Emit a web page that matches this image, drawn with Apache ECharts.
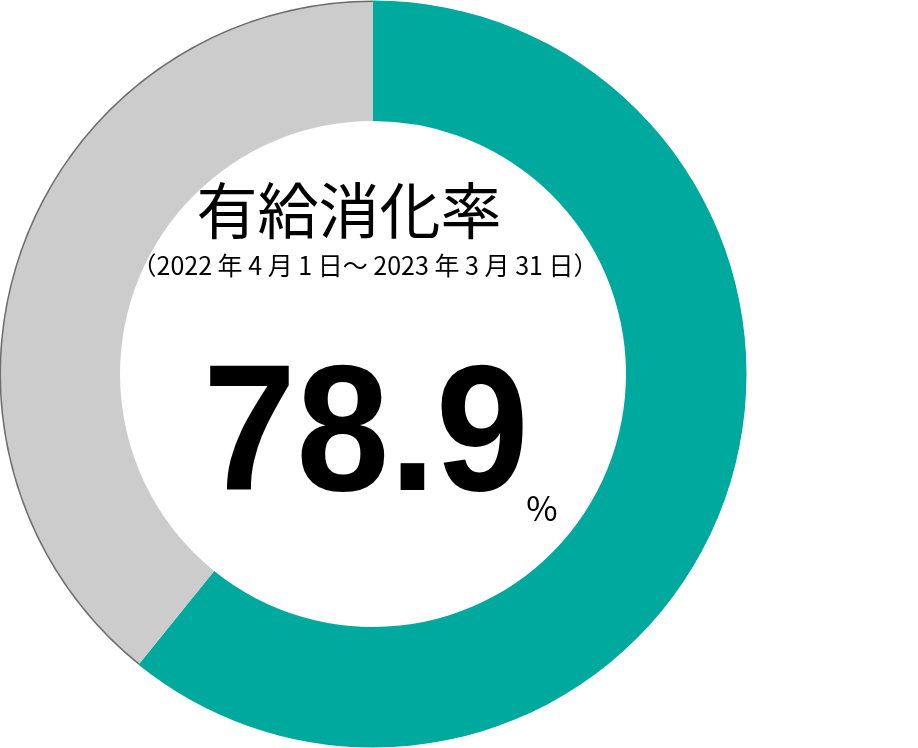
<!DOCTYPE html>
<html>
<head>
<meta charset="utf-8">
<script src="https://cdn.jsdelivr.net/npm/echarts@6/dist/echarts.min.js"></script>
<style>
html,body{margin:0;padding:0;background:#fff;}
#chart{width:918px;height:748px;}
</style>
</head>
<body>
<div id="chart"></div>
<script>
// Data
const sliceNames = ['有給消化', 'その他'];
const sliceValues = [60.8, 39.2];
const sliceColors = ['#00A99D', '#CCCCCC'];
const edgeColors = ['#00A99D', '#6E6E6E'];
const titleText = '有給消化率';
const periodText = '（2022 年 4 月 1 日～ 2023 年 3 月 31 日）';
const rateText = '78.9';
const unitText = '%';

const chart = echarts.init(document.getElementById('chart'), null, {renderer: 'canvas'});

const mainData = sliceNames.map((n, i) => ({name: n, value: sliceValues[i], itemStyle: {color: sliceColors[i]}}));
const edgeData = sliceNames.map((n, i) => ({name: n, value: sliceValues[i], itemStyle: {color: edgeColors[i]}}));

function txt(text, x, y, font, extra) {
  return Object.assign({
    type: 'text',
    x: x, y: y,
    style: {
      text: text,
      font: font,
      fill: '#000',
      align: 'center', verticalAlign: 'middle',
      textAlign: 'center', textVerticalAlign: 'middle'
    },
    silent: true,
    z: 100
  }, extra || {});
}

chart.setOption({
  animation: false,
  backgroundColor: '#fff',
  series: [
    {
      type: 'pie',
      center: [373, 374],
      radius: [253, 373],
      startAngle: 90,
      clockwise: true,
      silent: true,
      label: {show: false},
      labelLine: {show: false},
      data: mainData
    },
    {
      type: 'pie',
      center: [373, 374],
      radius: [372, 373.5],
      startAngle: 90,
      clockwise: true,
      silent: true,
      label: {show: false},
      labelLine: {show: false},
      data: edgeData
    }
  ],
  graphic: [
    txt(titleText, 349, 211, 'normal 61px "Noto Sans CJK JP"'),
    txt(periodText, 365, 265, 'normal 25px "Noto Sans CJK JP"'),
    txt(rateText, 366, 440, 'bold 180px "Liberation Sans"', {scaleX: 0.93, originX: 0, originY: 0}),
    txt(unitText, 542, 508, 'normal 34px "Noto Sans CJK JP"')
  ]
});
</script>
</body>
</html>
